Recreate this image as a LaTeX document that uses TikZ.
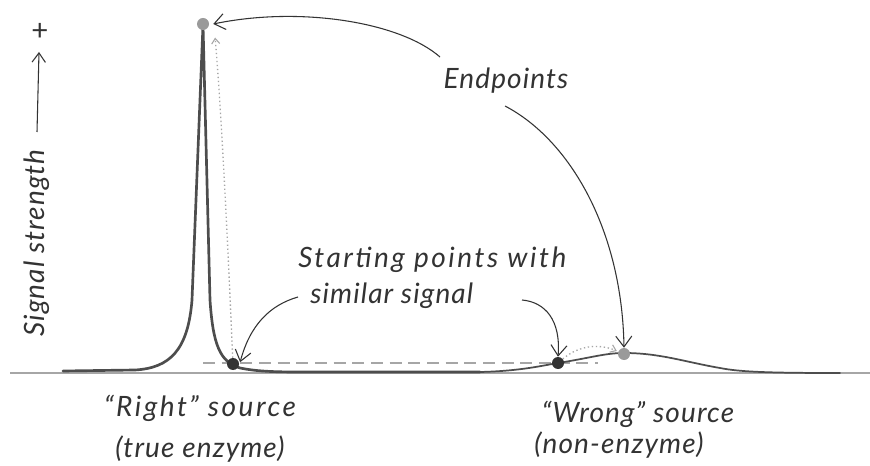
\documentclass[tikz,border=0pt]{standalone}
\usepackage{fontspec}
\setmainfont{Lato}
\usetikzlibrary{arrows.meta}
\definecolor{ink}{HTML}{333333}
\definecolor{curvegray}{HTML}{4D4D4D}
\definecolor{lightdot}{HTML}{9A9A9A}
\definecolor{guide}{HTML}{A6A6A6}
\tikzset{
  hand/.style={font=\fontsize{21}{24}\selectfont\itshape\addfontfeatures{LetterSpace=4}, text=ink, inner sep=0pt},
  wide hand/.style={hand, font=\fontsize{21}{24}\selectfont\itshape\addfontfeatures{LetterSpace=9}},
  pointer/.style={ink, line width=0.8pt, -{Straight Barb[length=8pt,width=12pt,line width=0.8pt]}},
  hint/.style={guide, line width=1pt, dotted, -{Straight Barb[length=4pt,width=6pt,line width=0.8pt,sep]}},
  startdot/.style={circle, fill=ink, minimum size=9pt, inner sep=0pt},
  enddot/.style={circle, fill=lightdot, minimum size=9pt, inner sep=0pt},
  baseline axis/.style={guide, line width=0.8pt},
  signal/.style={curvegray, line width=2pt, line join=round, line cap=round},
}
\begin{document}
\begin{tikzpicture}[x=0.75pt, y=-0.75pt]
  \useasboundingbox[fill=white] (0,0) rectangle (870,466);

  % horizontal baseline and the level of the starting points
  \coordinate (axL) at (10,373);
  \coordinate (axR) at (870,373);
  \draw[baseline axis] (axL) -- (axR);
  \coordinate (lvlL) at (203,363);
  \coordinate (lvlR) at (598,363);
  \draw[guide, line width=0.9pt, dash pattern=on 9pt off 5pt] (lvlL) -- (lvlR);

  % the sharp peak of the true enzyme
  \draw[signal] (63,371) -- (135,370) .. controls (170,368) and (188,350) .. (192,300)
    -- (203,25) -- (210,300) .. controls (213,345) and (220,362) .. (240,368)
    .. controls (255,371) and (270,372) .. (300,372) -- (480,372);
  % the weak hump of the non-enzyme
  \draw[signal, line width=1.3pt] (480,372) .. controls (520,371) and (540,366) .. (558,363)
    .. controls (590,358) and (605,353) .. (624,353)
    .. controls (660,353) and (685,362) .. (720,368)
    .. controls (740,372) and (770,373) .. (840,373);

  % points on the curves
  \node[enddot]   (endA)   at (203,24)  {};
  \node[startdot] (startA) at (233,364) {};
  \node[startdot] (startB) at (558,363) {};
  \node[enddot]   (endB)   at (624,354) {};

  % climbs from start to end
  \draw[hint] (startA) .. controls (228,250) and (222,120) .. (215,36);
  \draw[hint] (startB) .. controls (578,346) and (598,343) .. (endB);

  % y axis label
  \node[hand, rotate=90] (ylab) at (37,243) {Signal strength};
  \coordinate (yarrowFoot) at (37,132);
  \coordinate (yarrowTop) at (39,52);
  \draw[pointer, -{Straight Barb[length=7pt,width=10pt,line width=0.8pt]}] (yarrowFoot) -- (yarrowTop);
  \node[hand, font=\fontsize{22}{24}\selectfont] (plus) at (40,32) {+};

  % annotations
  \node[hand] (endp) at (506,81) {Endpoints};
  \coordinate (endpA) at (440,57);
  \coordinate (endpB) at (505,106);
  \draw[pointer] (endpA) .. controls (400,22) and (300,6) .. ([xshift=3pt]endA.east);
  \draw[pointer] (endpB) .. controls (570,140) and (622,230) .. (endB.north);

  \node[wide hand, anchor=west] (start1) at (298,260) {Starting points with};
  \node[hand, anchor=west] (start2) at (310,296) {similar signal};
  \coordinate (startArrA) at (298,297);
  \coordinate (startArrB) at (522,300);
  \draw[pointer] (startArrA) .. controls (270,305) and (250,325) .. ([shift={(2pt,-2pt)}]startA.north east);
  \draw[pointer] (startArrB) .. controls (545,302) and (561,320) .. (startB.north);

  % source labels
  \node[wide hand] (right1) at (200,408) {“Right” source};
  \node[hand] (right2) at (200,449) {(true enzyme)};
  \node[hand] (wrong1) at (638,414) {“Wrong” source};
  \node[hand] (wrong2) at (619,445) {(non-enzyme)};
\end{tikzpicture}
\end{document}
